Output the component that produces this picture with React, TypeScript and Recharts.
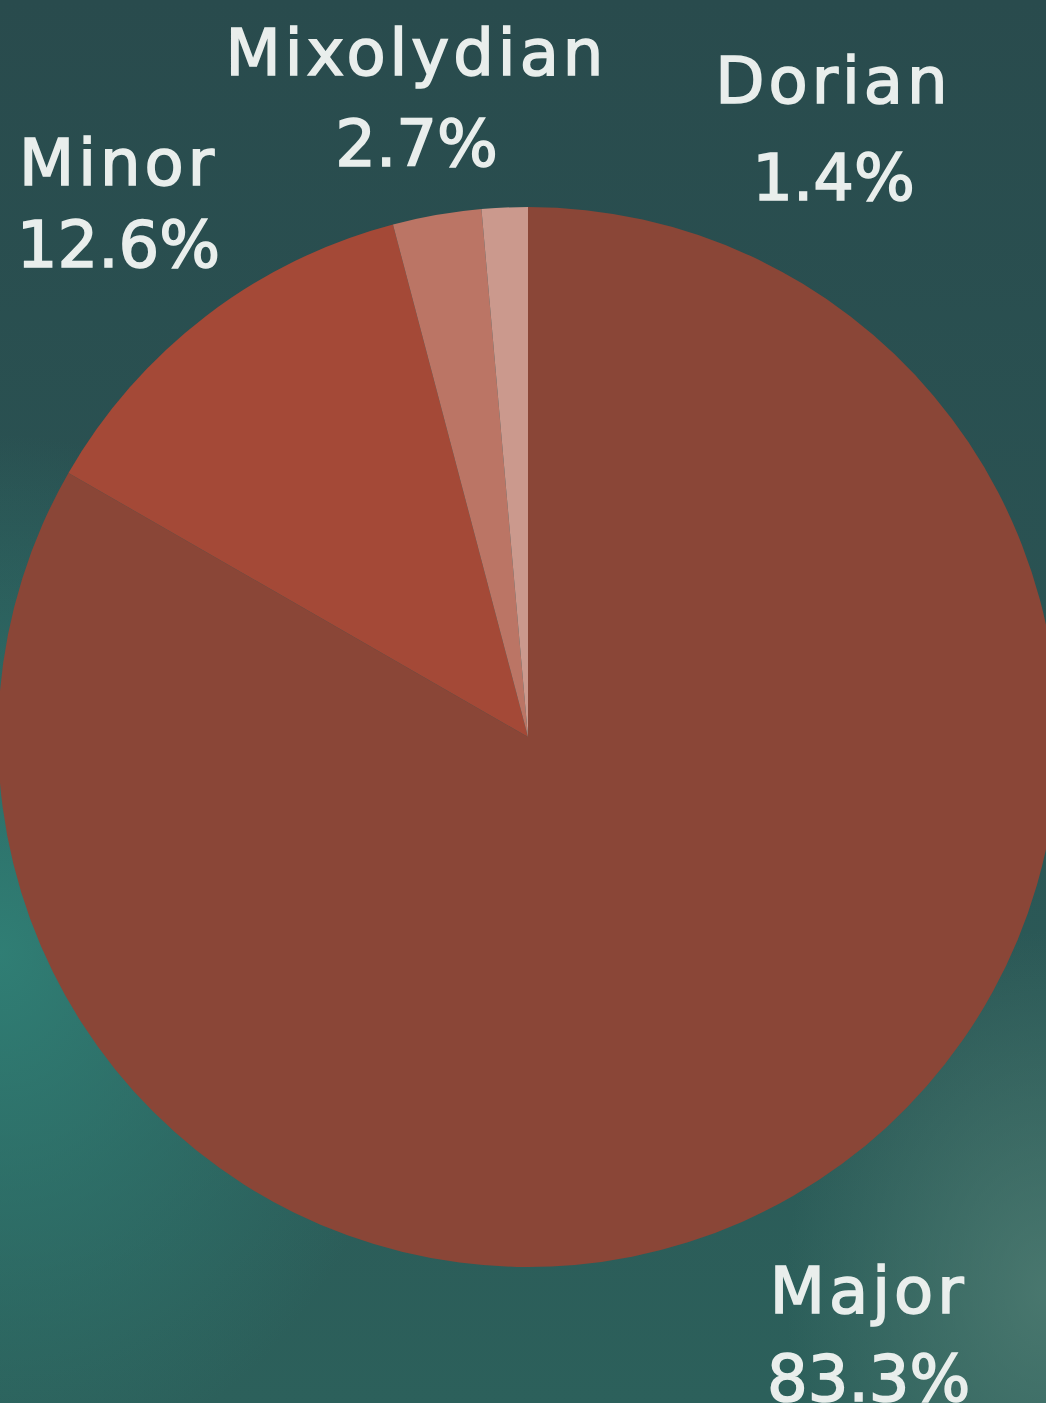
import { Cell, Pie, PieChart } from "recharts"

// modes in clockwise order from 12 o'clock
const modes = ["Major", "Minor", "Mixolydian", "Dorian"]
const shares = [83.3, 12.6, 2.7, 1.4]
const sliceColors = ["#8a4637", "#a44937", "#bb7565", "#cb998d"]

const data = modes.map((name, i) => ({ name, value: shares[i] }))

// labels sit on a ring outside the pie; Dorian is pushed right so it doesn't collide
const labelNudge: Record<string, { dx: number; dy: number; gap: number }> = {
  Major: { dx: 4, dy: -6, gap: 88 },
  Minor: { dx: -1, dy: -18, gap: 82 },
  Mixolydian: { dx: 4, dy: 0, gap: 91 },
  Dorian: { dx: 335, dy: 37, gap: 97 },
}

const RAD = Math.PI / 180

function ModeLabel(props: any) {
  const { cx, cy, midAngle, outerRadius, name, value } = props
  const r = outerRadius + 142
  const nudge = labelNudge[name] ?? { dx: 0, dy: 0, gap: 90 }
  const x = cx + r * Math.cos(-midAngle * RAD) + nudge.dx
  const y = cy + r * Math.sin(-midAngle * RAD) + nudge.dy
  return (
    <text
      x={x}
      y={y}
      textAnchor="middle"
      fill="#e9eeec"
      stroke="#e9eeec"
      strokeWidth={1.6}
      fontFamily="'DejaVu Sans', sans-serif"
      fontSize={64}
    >
      <tspan x={x} dy={0} letterSpacing={4}>
        {name}
      </tspan>
      <tspan x={x} dy={nudge.gap}>
        {`${value.toFixed(1)}%`}
      </tspan>
    </text>
  )
}

export default function App() {
  return (
    <div
      style={{
        width: 1046,
        height: 1403,
        overflow: "hidden",
        background:
          "radial-gradient(ellipse 420px 520px at 0% 68%, rgba(48,128,118,0.95) 0%, rgba(48,128,118,0) 100%), radial-gradient(ellipse 260px 360px at 100% 92%, rgba(80,125,115,0.8) 0%, rgba(80,125,115,0) 100%), linear-gradient(180deg, #294b4d 0%, #2a5353 45%, #2c605b 100%)",
      }}
    >
      <style>{`body{margin:0}`}</style>
      <PieChart width={1046} height={1403} margin={{ top: 0, right: 0, bottom: 0, left: 0 }}>
        <Pie
          data={data}
          dataKey="value"
          nameKey="name"
          cx={528}
          cy={737}
          outerRadius={530}
          startAngle={90}
          endAngle={-270}
          stroke="none"
          label={ModeLabel}
          labelLine={false}
          isAnimationActive={false}
        >
          {data.map((entry, index) => (
            <Cell key={entry.name} fill={sliceColors[index]} />
          ))}
        </Pie>
      </PieChart>
    </div>
  )
}
